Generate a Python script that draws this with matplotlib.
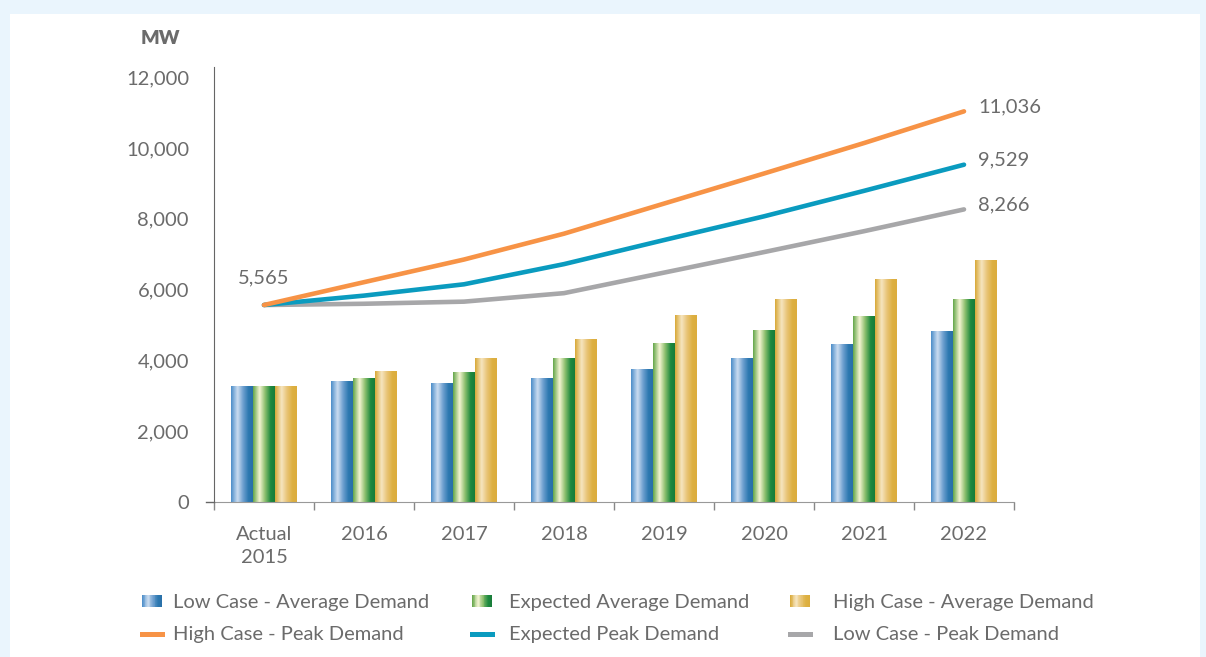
import numpy as np
import matplotlib
matplotlib.use("Agg")
import matplotlib.pyplot as plt
from matplotlib.colors import LinearSegmentedColormap
from matplotlib.patches import Rectangle
from matplotlib.lines import Line2D

plt.rcParams['font.family'] = ['Lato', 'DejaVu Sans']

categories = ["Actual\n2015", "2016", "2017", "2018", "2019", "2020", "2021", "2022"]
low_avg = [3280, 3420, 3360, 3500, 3760, 4070, 4460, 4830]
exp_avg = [3280, 3500, 3670, 4070, 4490, 4860, 5250, 5740]
high_avg = [3280, 3700, 4070, 4600, 5280, 5740, 6300, 6840]
high_peak = [5565, 6210, 6850, 7580, 8430, 9280, 10140, 11036]
exp_peak = [5565, 5830, 6150, 6720, 7400, 8070, 8790, 9529]
low_peak = [5565, 5600, 5660, 5900, 6480, 7060, 7650, 8266]

TXT = "#6b6b6b"
FS = 14.5

cmaps = {
    "blue": LinearSegmentedColormap.from_list("b", [(0, "#4a8cc8"), (0.3, "#cadcf0"), (0.55, "#6fa0d0"), (0.8, "#2c78b0"), (1, "#2a70a8")]),
    "green": LinearSegmentedColormap.from_list("g", [(0, "#62a548"), (0.3, "#f4f4d2"), (0.55, "#8cbf6e"), (0.8, "#1f8a40"), (1, "#187c39")]),
    "yellow": LinearSegmentedColormap.from_list("y", [(0, "#d8a836"), (0.3, "#f6e5c0"), (0.55, "#e8c476"), (0.8, "#ddb041"), (1, "#dcad3d")]),
}
ORANGE, TEAL, GRAY = "#f79346", "#0a9bbf", "#a7a7a9"

W, H = 1206, 657
fig = plt.figure(figsize=(W / 100, H / 100), dpi=100)
fig.patch.set_facecolor("#eaf5fd")
fig.patches.append(Rectangle((10 / W, 0), (1200 - 10) / W, (H - 14) / H,
                             transform=fig.transFigure, facecolor="white",
                             edgecolor="none", zorder=-10))

ax = fig.add_axes([214 / W, (H - 502) / H, 800 / W, (502 - 66.6) / H])
ax.set_zorder(1)
ax.set_facecolor("none")
x = np.arange(len(categories))
bw = 0.22
grad = np.linspace(0, 1, 256).reshape(1, -1)

for vals, off, key in [(low_avg, -bw, "blue"), (exp_avg, 0, "green"), (high_avg, bw, "yellow")]:
    bars = ax.bar(x + off, vals, width=bw, color="none", edgecolor="none", zorder=2)
    for b in bars:
        x0, y0 = b.get_x(), b.get_y()
        w, h = b.get_width(), b.get_height()
        im = ax.imshow(grad, cmap=cmaps[key], aspect="auto",
                       extent=[x0, x0 + w, y0, y0 + h], zorder=2, interpolation="bilinear")
        im.set_clip_path(b)

for vals, col in [(low_peak, GRAY), (exp_peak, TEAL), (high_peak, ORANGE)]:
    ax.plot(x, vals, color=col, lw=3.3, solid_capstyle="round", solid_joinstyle="round", zorder=3)

ax.text(0, 5565 + 520, "5,565", ha="center", va="bottom", fontsize=FS, color=TXT)
for vals in [high_peak, exp_peak, low_peak]:
    ax.text(7.14, vals[-1] + 130, f"{vals[-1]:,}", ha="left", va="center", fontsize=FS, color=TXT)

ax.set_xlim(-0.5, 7.5)
ax.set_ylim(0, 12300)
ax.set_yticks(np.arange(0, 12001, 2000))
ax.set_yticklabels([f"{v:,}" for v in range(0, 12001, 2000)])
ax.set_xticks(x)
ax.set_xticklabels(categories, linespacing=1.45)
ax.set_xticks(np.arange(-0.5, 7.6, 1), minor=True)
ax.tick_params(axis="x", which="major", length=0, pad=17, labelsize=FS, labelcolor=TXT)
ax.tick_params(axis="x", which="minor", length=6, color="#888888", width=1)
ax.tick_params(axis="y", length=0, pad=18, labelsize=FS, labelcolor=TXT)
for s in ["top", "right"]:
    ax.spines[s].set_visible(False)
ax.spines["left"].set_color("#666666")
ax.spines["bottom"].set_color("#999999")
ax.plot([-0.58, -0.5], [0, 0], color="#666666", lw=1, clip_on=False, zorder=4)

fig.text(160 / W, 1 - 38 / H, "MW", ha="center", va="center", fontsize=14,
         fontweight="heavy", color="#6b6b6b")

# Legend laid out at fixed column positions
def grad_handle(x0, yc, cmap, w=20, h=12, n=24):
    for i in range(n):
        fig.patches.append(Rectangle(((x0 + w * i / n) / W, 1 - (yc + h / 2) / H),
                                     (w / n + 0.4) / W, h / H, transform=fig.transFigure,
                                     facecolor=cmap((i + 0.5) / n), edgecolor="none"))

def line_handle(x0, yc, col, w=20):
    fig.add_artist(Line2D([x0 / W, (x0 + w) / W], [1 - yc / H, 1 - yc / H],
                          transform=fig.transFigure, color=col, lw=3.6))

rows = [601, 633]
cols = [(142, 173), (472, 509), (790, 833)]
legend_items = [
    [("grad", cmaps["blue"], "Low Case - Average Demand"),
     ("grad", cmaps["green"], "Expected Average Demand"),
     ("grad", cmaps["yellow"], "High Case - Average Demand")],
    [("line", ORANGE, "High Case - Peak Demand"),
     ("line", TEAL, "Expected Peak Demand"),
     ("line", GRAY, "Low Case - Peak Demand")],
]
for r, yc in enumerate(rows):
    for c, (hx, tx) in enumerate(cols):
        kind, style, label = legend_items[r][c]
        if kind == "grad":
            grad_handle(hx, yc, style)
        else:
            line_handle(hx, yc + 1, style)
        fig.text(tx / W, 1 - yc / H, label, ha="left", va="center_baseline",
                 fontsize=FS, color=TXT)

fig.savefig("out.png", dpi=100, facecolor=fig.get_facecolor())
